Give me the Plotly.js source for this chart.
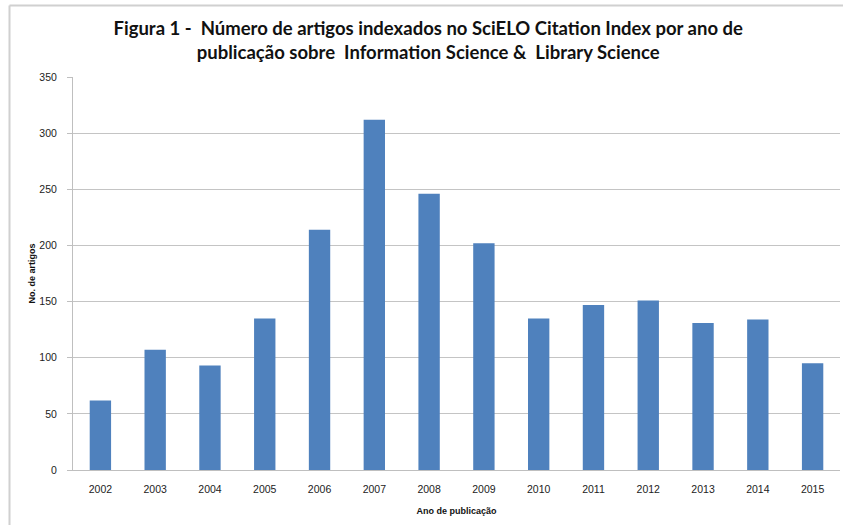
<!DOCTYPE html>
<html>
<head>
<meta charset="utf-8">
<script src="https://cdn.plot.ly/plotly-3.0.1.min.js"></script>
<style>html,body{margin:0;padding:0;background:#fff;}#chart{width:843px;height:525px;}</style>
</head>
<body>
<div id="chart"></div>
<script>
const years = ['2002','2003','2004','2005','2006','2007','2008','2009','2010','2011','2012','2013','2014','2015'];
const articles = [62, 107, 93, 135, 214, 312, 246, 202, 135, 147, 151, 131, 134, 95];
const yTicks = [0, 50, 100, 150, 200, 250, 300, 350];

const trace = {
  type: 'bar',
  x: years,
  y: articles,
  marker: {color: '#4F81BD'},
  hoverinfo: 'x+y'
};

const layout = {
  width: 843,
  height: 525,
  margin: {l: 73, r: 3, t: 77, b: 55},
  paper_bgcolor: '#ffffff',
  plot_bgcolor: '#ffffff',
  bargap: 0.61,
  showlegend: false,
  font: {family: 'Liberation Sans, Arial, sans-serif', color: '#222'},
  title: {
    text: '<b>Figura 1 -  Número de artigos indexados no SciELO Citation Index por ano de<br>publicação sobre  Information Science &  Library Science</b>',
    font: {family: 'Lato, Liberation Sans, sans-serif', size: 18.5, color: '#111'},
    x: 0.508, xanchor: 'center',
    y: 1 - 35/525, yanchor: 'middle', yref: 'container'
  },
  xaxis: {
    type: 'category',
    showgrid: false,
    showline: true,
    linecolor: '#bfbfbf',
    linewidth: 1,
    ticks: '',
    ticklabelstandoff: 9,
    tickfont: {size: 10.5, color: '#222'},
    title: {text: '<b>Ano de publicação</b>', font: {size: 9, color: '#111'}, standoff: 14}
  },
  yaxis: {
    range: [0, 350],
    tickvals: yTicks,
    showgrid: true,
    gridcolor: '#c4c4c4',
    gridwidth: 1,
    showline: true,
    linecolor: '#bfbfbf',
    ticks: 'outside',
    ticklen: 5,
    tickcolor: '#bfbfbf',
    ticklabelstandoff: 8,
    tickfont: {size: 10.5, color: '#222'},
    zeroline: false,
    title: {text: '<b>No. de artigos</b>', font: {size: 9, color: '#111'}, standoff: 2}
  },
  shapes: [
    {type: 'line', xref: 'paper', yref: 'paper', x0: (9.5-73)/767, x1: 1.01, y0: (470-5.5)/393, y1: (470-5.5)/393, line: {color: '#d0d0d0', width: 2}},
    {type: 'line', xref: 'paper', yref: 'paper', x0: (9.5-73)/767, x1: (9.5-73)/767, y0: (470-525)/393, y1: (470-5.5)/393, line: {color: '#d0d0d0', width: 2}}
  ]
};

Plotly.newPlot('chart', [trace], layout, {displayModeBar: false, staticPlot: true});
</script>
</body>
</html>
